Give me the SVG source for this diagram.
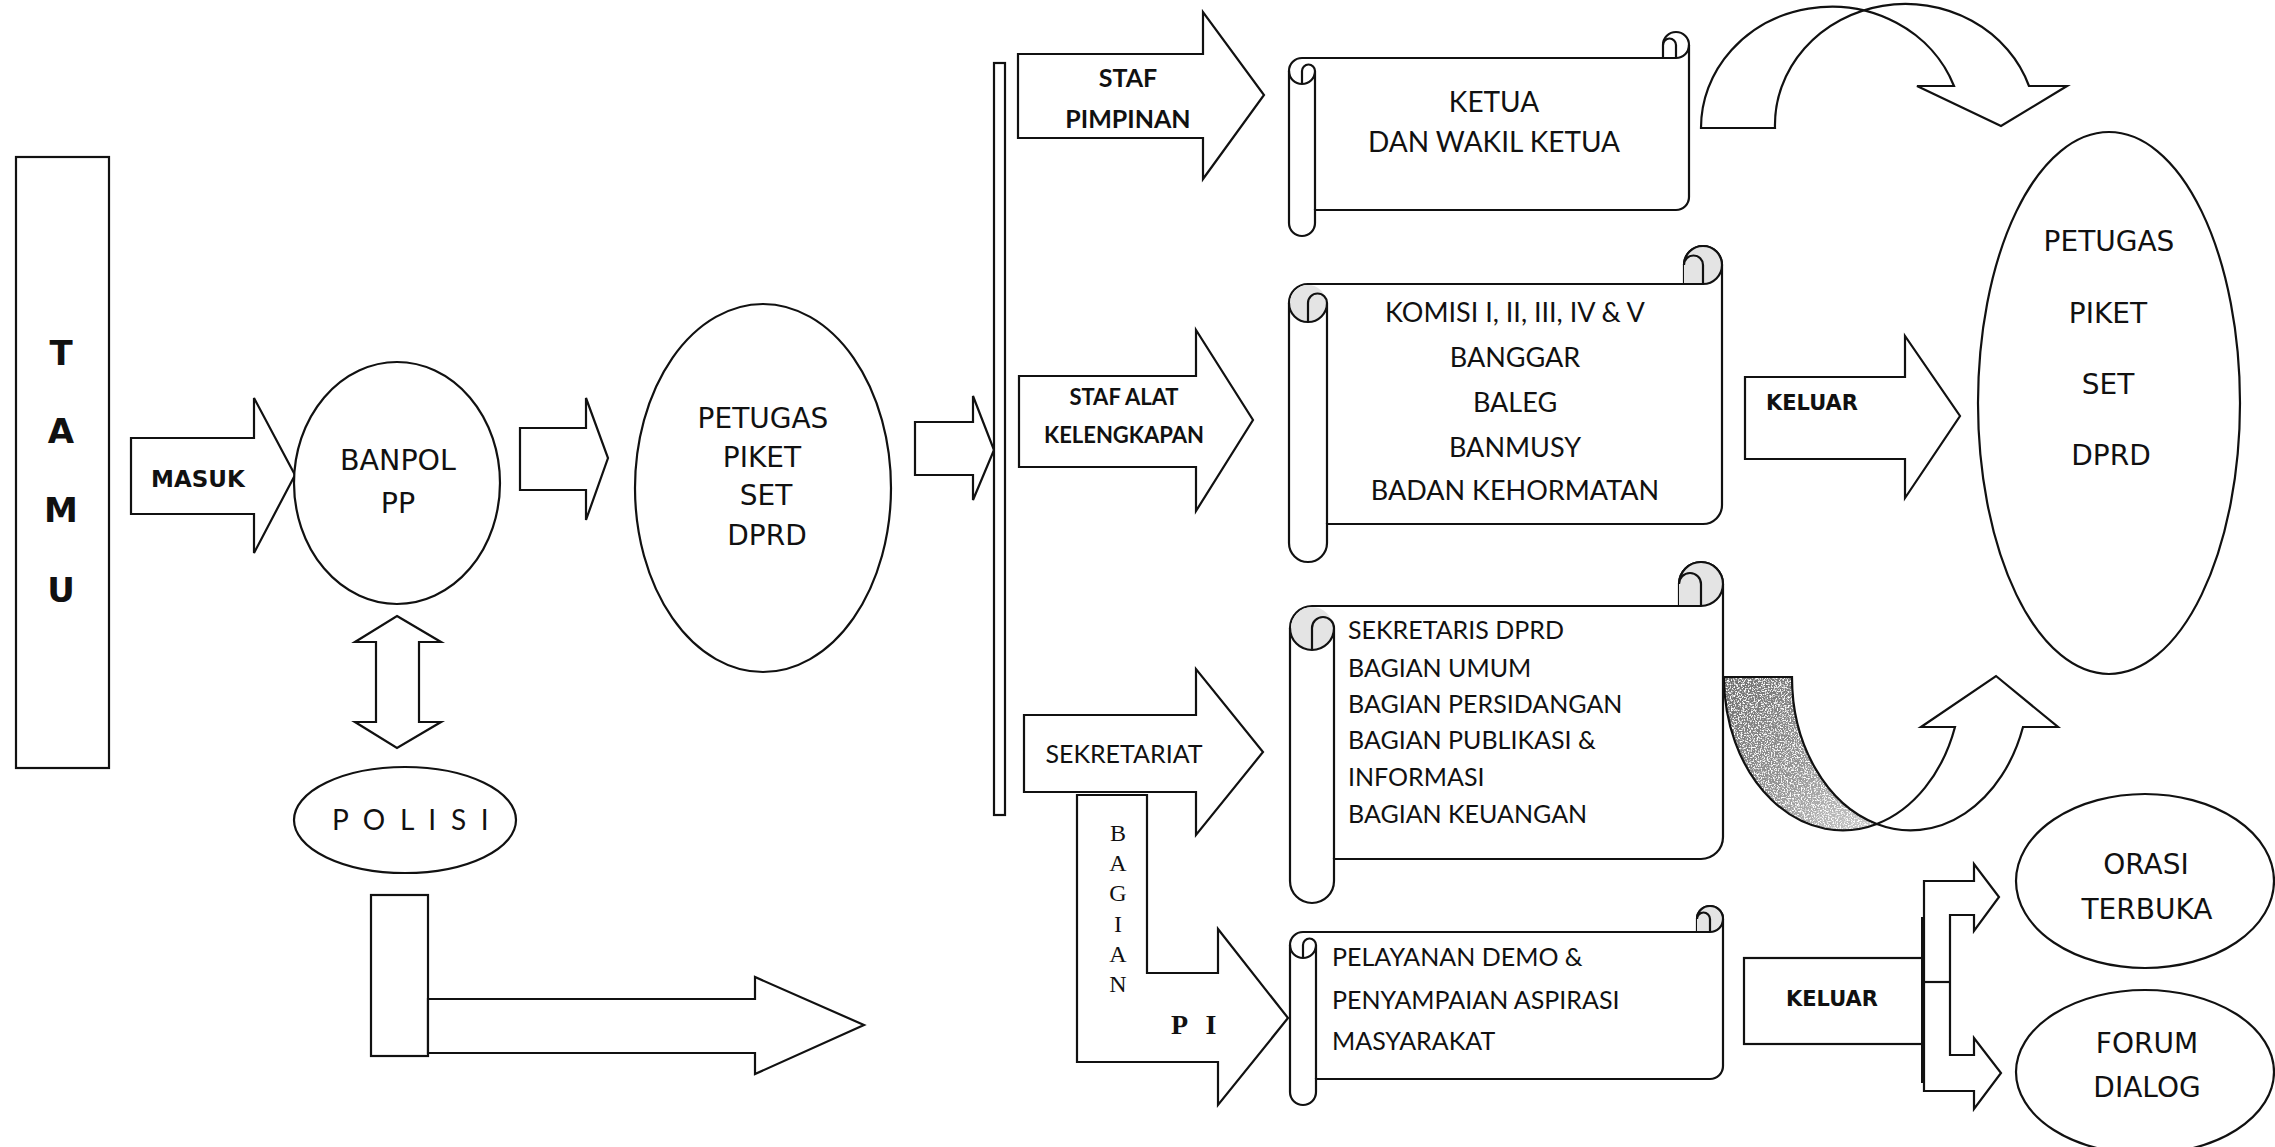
<svg xmlns="http://www.w3.org/2000/svg" width="2275" height="1147" viewBox="0 0 2275 1147">
<style>
.s{fill:#fff;stroke:#111;stroke-width:2.2;stroke-linejoin:miter}
.d{fill:none;stroke:#111;stroke-width:2.2}
.g{fill:#e4e4e4;stroke:none}
.v{font-family:"DejaVu Sans",Verdana,sans-serif;fill:#111}
.vb{font-family:"DejaVu Sans",Verdana,sans-serif;font-weight:bold;fill:#111}
.c{font-family:Lato,"Open Sans",sans-serif;fill:#111}
.cb{font-family:Lato,"Open Sans",sans-serif;font-weight:bold;fill:#111}
.sr{font-family:"Liberation Serif","Times New Roman",serif;fill:#111}
.m{text-anchor:middle}
</style>
<defs>
<linearGradient id="shade" x1="0" y1="0" x2="1" y2="1">
<stop offset="0" stop-color="#6e6e6e"/>
<stop offset="0.55" stop-color="#959595"/>
<stop offset="1" stop-color="#cfcfcf"/>
</linearGradient>
<filter id="speckle" x="0" y="0" width="1" height="1">
<feTurbulence type="fractalNoise" baseFrequency="0.7" numOctaves="2" seed="4" result="noise"/>
<feColorMatrix in="noise" type="matrix" values="0 0 0 0 1  0 0 0 0 1  0 0 0 0 1  0 0 0 -5 2.6" result="spots"/>
<feComposite in="spots" in2="SourceGraphic" operator="in" result="clip"/>
<feMerge><feMergeNode in="SourceGraphic"/><feMergeNode in="clip"/></feMerge>
</filter>
</defs>
<rect width="2275" height="1147" fill="#fff"/>

<g id="connectors">
<polygon class="s" points="131,438 254,438 254,398 295,475 254,553 254,514 131,514"/>
<polygon class="s" points="520,428 586,428 586,398 608,458 586,520 586,490 520,490"/>
<polygon class="s" points="915,422 973,422 973,396 994,450 973,500 973,475 915,475"/>
<polygon class="s" points="397,616 441,642 419,642 419,722 441,722 397,748 355,722 376,722 376,642 355,642"/>
<rect class="s" x="371" y="895" width="57" height="161"/>
<polygon class="s" points="428,999 755,999 755,977 864,1025 755,1074 755,1053 428,1053"/>
<rect class="s" x="994" y="63" width="11" height="752"/>
<polygon class="s" points="1018,54 1203,54 1203,12 1264,95 1203,179 1203,138 1018,138"/>
<polygon class="s" points="1019,376 1196,376 1196,330 1253,420 1196,511 1196,467 1019,467"/>
<polygon class="s" points="1077,795 1147,795 1147,973 1218,973 1218,929 1288,1018 1218,1105 1218,1062 1077,1062"/>
<polygon class="s" points="1024,715 1196,715 1196,669 1263,752 1196,835 1196,792 1024,792"/>
<polygon class="s" points="1745,377 1905,377 1905,336 1960,416 1905,498 1905,459 1745,459"/>
<path class="s" d="M1701,128 A130.5,121 0 0 1 1954,86 L1917,86 L2001,126 L2067,86 L2029,86 A130.5,121 0 0 0 1775,128 Z"/>
<path fill="url(#shade)" filter="url(#speckle)" d="M1724,677 A118.8,153 0 0 0 1876.8,824 A118.8,153 0 0 1 1792,677 Z"/>
<path class="d" d="M1724,677 A118.8,153 0 0 0 1876.8,824 A118.8,153 0 0 1 1792,677 Z"/>
<path class="s" d="M1876.8,824 A118.8,153 0 0 0 1955,727 L1921,727 L1996,676 L2058,727 L2023,727 A118.8,153 0 0 1 1876.8,824 Z"/>
<rect class="s" x="1744" y="958" width="179" height="86"/>
<polygon class="s" points="1924,881 1974,881 1974,864 1999,897 1974,931 1974,915 1950,915 1950,1055 1974,1055 1974,1038 2001,1073 1974,1109 1974,1091 1924,1091"/>
<path class="d" d="M1924,982 L1950,982"/>
<path fill="none" stroke="#111" stroke-width="4" d="M1923,917 L1923,1083"/>
<text class="vb m" x="198" y="487" font-size="23">MASUK</text>
<text class="cb m" x="1128" y="87" font-size="25">STAF</text>
<text class="cb m" x="1128" y="128" font-size="25">PIMPINAN</text>
<text class="cb m" x="1124" y="405" font-size="22">STAF ALAT</text>
<text class="cb m" x="1124" y="443" font-size="22">KELENGKAPAN</text>
<text class="c m" x="1124" y="763" font-size="25">SEKRETARIAT</text>
<text class="vb m" x="1812" y="410" font-size="21">KELUAR</text>
<text class="vb m" x="1832" y="1006" font-size="21">KELUAR</text>
<g class="sr m" font-size="24">
<text x="1118" y="841">B</text>
<text x="1118" y="871">A</text>
<text x="1118" y="901">G</text>
<text x="1118" y="932">I</text>
<text x="1118" y="962">A</text>
<text x="1118" y="992">N</text>
</g>
<text class="sr" x="1171" y="1034" font-size="28" font-weight="bold" letter-spacing="6">P I</text>
</g>

<g id="tamu">
<rect class="s" x="16" y="157" width="93" height="611"/>
<g class="vb m" font-size="34">
<text x="61" y="365">T</text>
<text x="61" y="443">A</text>
<text x="61" y="522">M</text>
<text x="61" y="602">U</text>
</g>
</g>

<g id="banpol">
<ellipse class="s" cx="397" cy="483" rx="103" ry="121"/>
<text class="v m" x="398" y="470" font-size="28.5">BANPOL</text>
<text class="v m" x="398" y="513" font-size="28.5">PP</text>
</g>

<g id="polisi">
<ellipse class="s" cx="405" cy="820" rx="111" ry="53"/>
<text class="c" x="332" y="830" font-size="28" letter-spacing="3.8">P O L I S I</text>
</g>

<g id="petugas1">
<ellipse class="s" cx="763" cy="488" rx="128" ry="184"/>
<g class="v m" font-size="28">
<text x="763" y="428">PETUGAS</text>
<text x="762" y="467">PIKET</text>
<text x="766" y="505">SET</text>
<text x="767" y="545">DPRD</text>
</g>
</g>

<g id="scroll-ketua">
<path class="s" d="M1289,71 A13,13 0 0 1 1302,58 L1663,58 L1663,45 A13,13 0 0 1 1689,45 L1689,197 A13,13 0 0 1 1676,210 L1315,210 L1315,223 A13,13 0 0 1 1289,223 Z"/>
<path class="d" d="M1663,58 L1676,58 A13,13 0 0 0 1689,45 M1676,58 L1676,45 A6.5,6.5 0 0 0 1663,45 M1302,84 L1302,71 A6.5,6.5 0 0 1 1315,71 A13,13 0 0 1 1289,71 M1315,71 L1315,210"/>
<text class="c m" x="1494" y="112" font-size="28">KETUA</text>
<text class="c m" x="1494" y="152" font-size="28">DAN WAKIL KETUA</text>
</g>

<g id="scroll-komisi">
<path class="s" d="M1289,303 A19,19 0 0 1 1308,284 L1684,284 L1684,265 A19,19 0 0 1 1722,265 L1722,505 A19,19 0 0 1 1703,524 L1327,524 L1327,543 A19,19 0 0 1 1289,543 Z"/>
<path class="g" d="M1684,284 L1684,265 A19,19 0 0 1 1722,265 A19,19 0 0 1 1703,284 Z"/>
<circle class="g" cx="1308" cy="303" r="18"/>
<path class="d" d="M1684,284 L1703,284 A19,19 0 0 0 1722,265 M1703,284 L1703,265 A9.5,9.5 0 0 0 1684,265 M1308,322 L1308,303 A9.5,9.5 0 0 1 1327,303 A19,19 0 0 1 1289,303 M1327,303 L1327,524 M1684,265 A19,19 0 0 1 1722,265"/>
<g class="c m" font-size="27">
<text x="1515" y="322">KOMISI I, II, III, IV &amp; V</text>
<text x="1515" y="367">BANGGAR</text>
<text x="1515" y="412">BALEG</text>
<text x="1515" y="457">BANMUSY</text>
<text x="1515" y="500">BADAN KEHORMATAN</text>
</g>
</g>

<g id="scroll-sekretariat">
<path class="s" d="M1290,628 A22,22 0 0 1 1312,606 L1679,606 L1679,584 A22,22 0 0 1 1723,584 L1723,837 A22,22 0 0 1 1701,859 L1334,859 L1334,881 A22,22 0 0 1 1290,881 Z"/>
<path class="g" d="M1679,606 L1679,584 A22,22 0 0 1 1723,584 A22,22 0 0 1 1701,606 Z"/>
<circle class="g" cx="1312" cy="628" r="21"/>
<path class="d" d="M1679,606 L1701,606 A22,22 0 0 0 1723,584 M1701,606 L1701,584 A11,11 0 0 0 1679,584 M1312,650 L1312,628 A11,11 0 0 1 1334,628 A22,22 0 0 1 1290,628 M1334,628 L1334,859 M1679,584 A22,22 0 0 1 1723,584"/>
<g class="c" font-size="25">
<text x="1348" y="639">SEKRETARIS DPRD</text>
<text x="1348" y="677">BAGIAN UMUM</text>
<text x="1348" y="713">BAGIAN PERSIDANGAN</text>
<text x="1348" y="749">BAGIAN PUBLIKASI &amp;</text>
<text x="1348" y="786">INFORMASI</text>
<text x="1348" y="823">BAGIAN KEUANGAN</text>
</g>
</g>

<g id="scroll-demo">
<path class="s" d="M1290,945 A13,13 0 0 1 1303,932 L1697,932 L1697,919 A13,13 0 0 1 1723,919 L1723,1066 A13,13 0 0 1 1710,1079 L1316,1079 L1316,1092 A13,13 0 0 1 1290,1092 Z"/>
<path class="g" d="M1697,932 L1697,919 A13,13 0 0 1 1723,919 A13,13 0 0 1 1710,932 Z"/>
<path class="d" d="M1697,932 L1710,932 A13,13 0 0 0 1723,919 M1710,932 L1710,919 A6.5,6.5 0 0 0 1697,919 M1303,958 L1303,945 A6.5,6.5 0 0 1 1316,945 A13,13 0 0 1 1290,945 M1316,945 L1316,1079 M1697,919 A13,13 0 0 1 1723,919"/>
<g class="c" font-size="25">
<text x="1332" y="966">PELAYANAN DEMO &amp;</text>
<text x="1332" y="1009">PENYAMPAIAN ASPIRASI</text>
<text x="1332" y="1050">MASYARAKAT</text>
</g>
</g>

<g id="petugas2">
<ellipse class="s" cx="2109" cy="403" rx="131" ry="271"/>
<g class="v m" font-size="28">
<text x="2109" y="251">PETUGAS</text>
<text x="2108" y="323">PIKET</text>
<text x="2108" y="394">SET</text>
<text x="2111" y="465">DPRD</text>
</g>
</g>

<g id="orasi">
<ellipse class="s" cx="2145" cy="881" rx="129" ry="87"/>
<text class="v m" x="2146" y="874" font-size="28">ORASI</text>
<text class="v m" x="2147" y="919" font-size="28">TERBUKA</text>
</g>

<g id="forum">
<ellipse class="s" cx="2145" cy="1072" rx="129" ry="82"/>
<text class="v m" x="2147" y="1053" font-size="28">FORUM</text>
<text class="v m" x="2147" y="1097" font-size="28">DIALOG</text>
</g>
</svg>
